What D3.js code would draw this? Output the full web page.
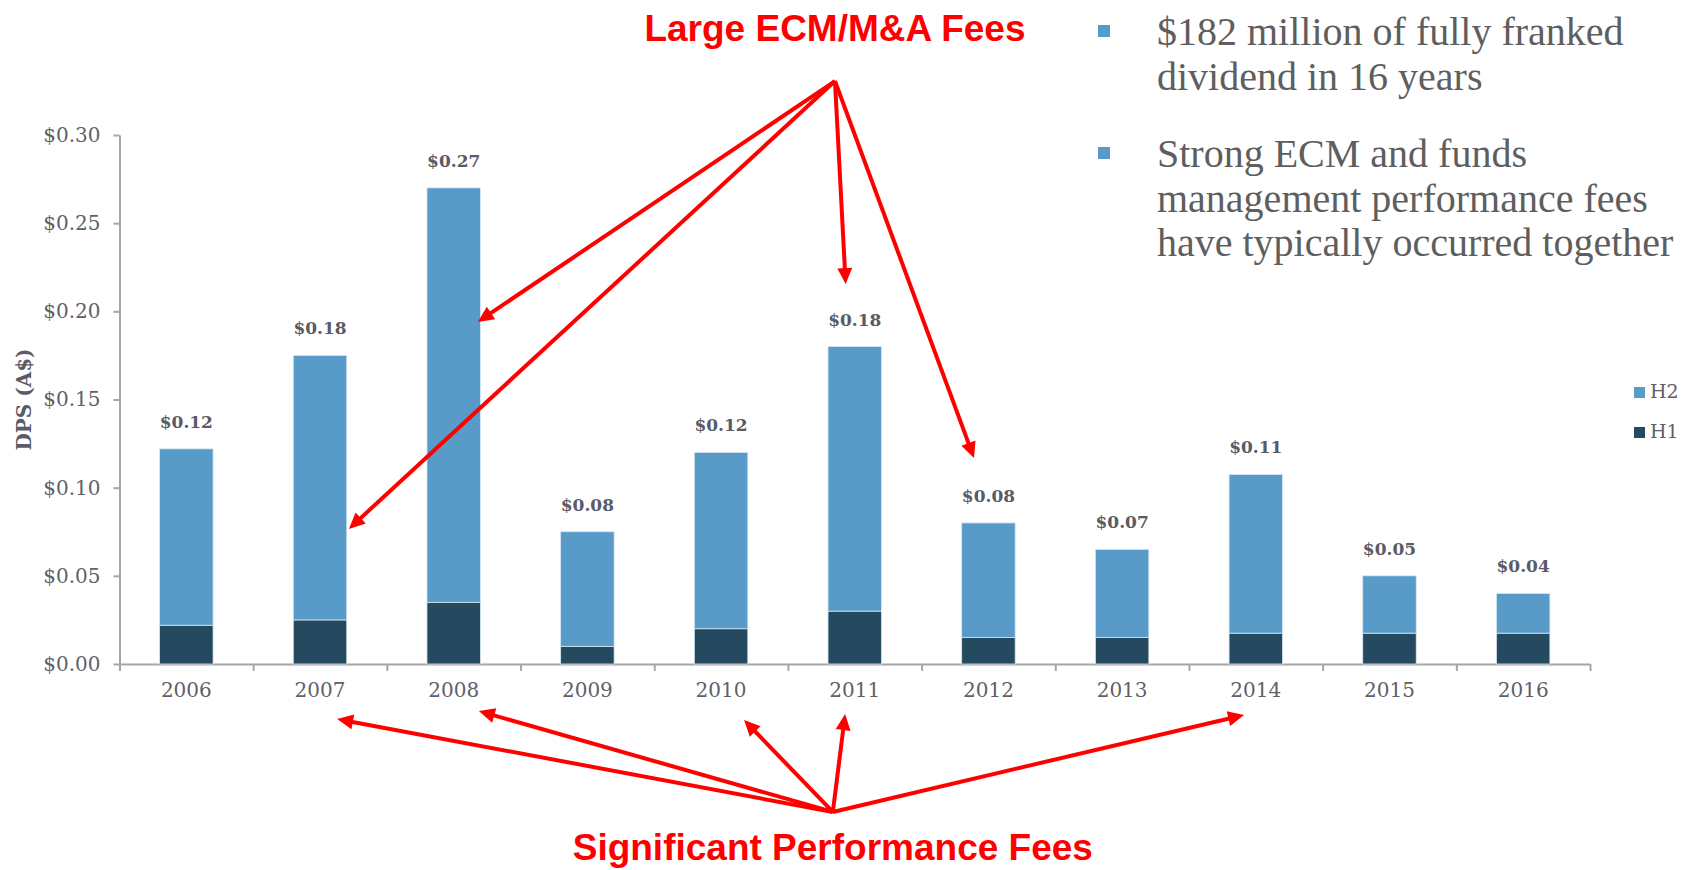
<!DOCTYPE html>
<html>
<head>
<meta charset="utf-8">
<script src="https://cdn.jsdelivr.net/npm/d3@7/dist/d3.min.js"></script>
<style>
  html, body { margin: 0; padding: 0; background: #fff; }
  svg { display: block; }
  .axis text { font-family: "DejaVu Serif", serif; font-size: 20px; fill: #5f5f69; }
  .axis path, .axis line { stroke: #a6a6a6; stroke-width: 2; }
  .val-label { font-family: "DejaVu Serif", serif; font-weight: bold; font-size: 17px; fill: #5a5b66; }
  .bullet-text { font-family: "Liberation Serif", serif; font-size: 40px; fill: #5e5e5e; }
  .red-note { font-family: "Liberation Sans", Arial, sans-serif; font-weight: bold; font-size: 37px; fill: #ff0000; }
</style>
</head>
<body>
<div id="chart"></div>
<script>
// ---- data -------------------------------------------------------------------
const years = ['2006', '2007', '2008', '2009', '2010', '2011', '2012', '2013', '2014', '2015', '2016'];
const h1 = [0.022, 0.025, 0.035, 0.010, 0.020, 0.030, 0.015, 0.015, 0.0175, 0.0175, 0.0175];
const h2 = [0.100, 0.150, 0.235, 0.065, 0.100, 0.150, 0.065, 0.050, 0.090, 0.0325, 0.0225];
const totalLabels = ['$0.12', '$0.18', '$0.27', '$0.08', '$0.12', '$0.18', '$0.08', '$0.07', '$0.11', '$0.05', '$0.04'];
const yTicks = [0, 0.05, 0.10, 0.15, 0.20, 0.25, 0.30];
const seriesNames = ['H1', 'H2'];

const bulletLines = [
  ['$182 million of fully franked', 'dividend in 16 years'],
  ['Strong ECM and funds', 'management performance fees', 'have typically occurred together']
];

// annotation arrows, anchored to a year band (f = fraction of bar width) and a value
const ecmOrigin = { year: '2011', f: 0.13, v: 0.3306 };
const ecmTargets = [
  { year: '2008', f: 0.95, v: 0.194 },
  { year: '2007', f: 1.04, v: 0.0766 },
  { year: '2011', f: 0.33, v: 0.2155 },
  { year: '2012', f: 0.23, v: 0.1168 }
];
const perfOrigin = { year: '2011', f: 0.09, v: -0.0839 };
const perfTargets = [
  { year: '2007', f: 0.82, v: -0.0312 },
  { year: '2008', f: 0.97, v: -0.0267 },
  { year: '2010', f: 0.93, v: -0.0318 },
  { year: '2011', f: 0.32, v: -0.0284 },
  { year: '2014', f: 0.28, v: -0.0289 }
];

// ---- layout -----------------------------------------------------------------
const W = 1684, H = 870;
const PLOT = { left: 119.5, right: 1590, top: 135, bottom: 664 };
const COLORS = { H1: '#254a5f', H2: '#589bc8' };
const RED = '#ff0000';

const svg = d3.select('#chart').append('svg').attr('width', W).attr('height', H);

const x = d3.scaleBand().domain(years).range([PLOT.left, PLOT.right]).paddingInner(0.6).paddingOuter(0.3);
const xEdge = d3.scaleLinear().domain([0, years.length]).range([PLOT.left, PLOT.right]);
const y = d3.scaleLinear().domain([0, 0.30]).range([PLOT.bottom, PLOT.top]);

const rows = years.map((yr, i) => ({ year: yr, H1: h1[i], H2: h2[i], label: totalLabels[i] }));
const stacked = d3.stack().keys(seriesNames)(rows);

// Axes
svg.append('g').attr('class', 'axis')
  .attr('transform', `translate(${PLOT.left},0)`)
  .call(d3.axisLeft(y).tickValues(yTicks).tickSize(6).tickSizeOuter(0).tickPadding(13)
    .tickFormat(d => '$' + d.toFixed(2)));

svg.append('g').attr('class', 'axis')
  .attr('transform', `translate(0,${PLOT.bottom})`)
  .call(d3.axisBottom(xEdge).tickValues(d3.range(years.length + 1)).tickSize(7).tickSizeOuter(0).tickFormat(''));

svg.append('g').attr('class', 'axis')
  .attr('transform', `translate(0,${PLOT.bottom})`)
  .call(d3.axisBottom(x).tickSize(0).tickPadding(19))
  .select('.domain').remove();

// y title
svg.append('text')
  .attr('transform', `translate(31,${(PLOT.top + PLOT.bottom) / 2}) rotate(-90)`)
  .attr('text-anchor', 'middle')
  .style('font-family', '"DejaVu Serif", serif').style('font-weight', 'bold')
  .style('font-size', '20px').style('fill', '#5a5b66')
  .text('DPS (A$)');

// Bars
svg.append('g').selectAll('g').data(stacked).join('g')
  .attr('fill', d => COLORS[d.key])
  .selectAll('rect').data(d => d).join('rect')
  .attr('x', d => x(d.data.year))
  .attr('y', d => y(d[1]))
  .attr('width', x.bandwidth())
  .attr('height', d => y(d[0]) - y(d[1]))
  .attr('stroke', '#d6e6f2').attr('stroke-width', 0.8);

// Totals
svg.append('g').selectAll('text').data(rows).join('text')
  .attr('class', 'val-label')
  .attr('x', d => x(d.year) + x.bandwidth() / 2)
  .attr('y', d => y(d.H1 + d.H2) - 21)
  .attr('text-anchor', 'middle')
  .text(d => d.label);

// Legend
const legend = svg.append('g').attr('transform', 'translate(1634,387)');
['H2', 'H1'].forEach((k, i) => {
  const g = legend.append('g').attr('transform', `translate(0,${i * 40})`);
  g.append('rect').attr('width', 11).attr('height', 11).attr('fill', COLORS[k]);
  g.append('text').attr('x', 16).attr('y', 11)
    .style('font-family', '"DejaVu Serif", serif').style('font-size', '19px').style('fill', '#5f5f6a')
    .text(k);
});

// Bullet text
const bulletBase = [45, 167];
bulletLines.forEach((lines, bi) => {
  const b0 = bulletBase[bi];
  svg.append('rect').attr('x', 1098).attr('y', b0 - 20).attr('width', 12).attr('height', 12)
    .attr('fill', COLORS.H2);
  lines.forEach((ln, li) => {
    svg.append('text').attr('class', 'bullet-text')
      .attr('x', 1157).attr('y', b0 + li * 44.5).text(ln);
  });
});

// Annotation arrows
const px = p => x(p.year) + p.f * x.bandwidth();
const py = p => y(p.v);

function drawArrows(origin, targets) {
  const g = svg.append('g');
  const ox = px(origin), oy = py(origin);
  targets.forEach(t => {
    const tx = px(t), ty = py(t);
    const dx = tx - ox, dy = ty - oy, len = Math.hypot(dx, dy);
    const ux = dx / len, uy = dy / len;
    const headL = 16, headW = 7.5;
    const bx = tx - ux * headL, by = ty - uy * headL;
    g.append('line')
      .attr('x1', ox).attr('y1', oy)
      .attr('x2', tx - ux * (headL - 3)).attr('y2', ty - uy * (headL - 3))
      .attr('stroke', RED).attr('stroke-width', 4);
    g.append('path')
      .attr('d', `M${tx},${ty}L${bx - uy * headW},${by + ux * headW}L${bx + uy * headW},${by - ux * headW}Z`)
      .attr('fill', RED);
  });
  return ox;
}

const ecmX = drawArrows(ecmOrigin, ecmTargets);
const perfX = drawArrows(perfOrigin, perfTargets);

svg.append('text').attr('class', 'red-note')
  .attr('x', ecmX).attr('y', 41).attr('text-anchor', 'middle')
  .text('Large ECM/M&A Fees');
svg.append('text').attr('class', 'red-note')
  .attr('x', perfX).attr('y', 860).attr('text-anchor', 'middle')
  .text('Significant Performance Fees');
</script>
</body>
</html>
